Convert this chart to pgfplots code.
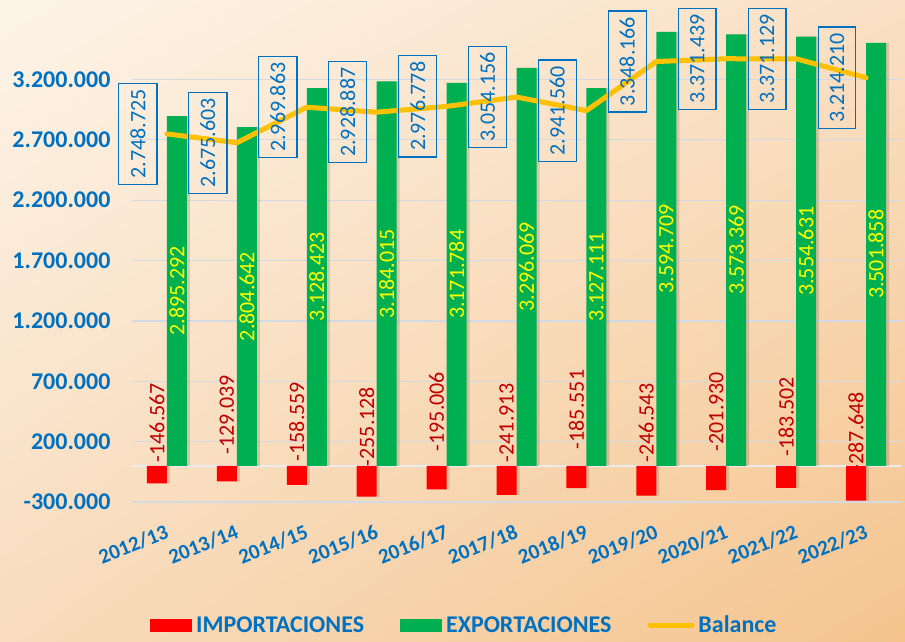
\documentclass[border=0pt]{standalone}
\usepackage{fontspec}
\setmainfont{Carlito}
\usepackage{pgfplots}
\usepackage{pgfplotstable}
\usetikzlibrary{shadings}
\pgfplotsset{compat=1.18}
\definecolor{cblue}{HTML}{0070C0}
\definecolor{cred}{HTML}{FF0000}
\definecolor{cdred}{HTML}{C00000}
\definecolor{cgreen}{HTML}{00B050}
\definecolor{cbal}{HTML}{FFC000}
\definecolor{cyel}{HTML}{FFFF00}
\definecolor{cgrid}{HTML}{D3DAE4}
\definecolor{bgUL}{HTML}{FDF4E8}
\definecolor{bgUR}{HTML}{F9E0C4}
\definecolor{bgLL}{HTML}{F8DCBD}
\definecolor{bgLR}{HTML}{F5C48D}

\pgfplotstableread{
x imp exp bal impy implab explab ballab
0 -146567 2895292 2748725 29000 -146.567 2.895.292 2.748.725
1 -129039 2804642 2675603 95000 -129.039 2.804.642 2.675.603
2 -158559 3128423 2969863 37000 -158.559 3.128.423 2.969.863
3 -255128 3184015 2928887 -4000 -255.128 3.184.015 2.928.887
4 -195006 3171784 2976778 120000 -195.006 3.171.784 2.976.778
5 -241913 3296069 3054156 29000 -241.913 3.296.069 3.054.156
6 -185551 3127111 2941560 137000 -185.551 3.127.111 2.941.560
7 -246543 3594709 3348166 29000 -246.543 3.594.709 3.348.166
8 -201930 3573369 3371439 120000 -201.930 3.573.369 3.371.439
9 -183502 3554631 3371129 79000 -183.502 3.554.631 3.371.129
10 -287648 3501858 3214210 -46000 -287.648 3.501.858 3.214.210
}\data

\begin{document}
\begin{tikzpicture}[x=1pt,y=1pt]
\shade[upper left=bgUL, upper right=bgUR, lower left=bgLL, lower right=bgLR] (0,0) rectangle (905,641);
\begin{axis}[
  at={(132pt,139pt)}, anchor=south west,
  scale only axis, width=769pt, height=495pt,
  xmin=-0.5, xmax=10.5, ymin=-300000, ymax=3800000,
  axis line style={draw=none},
  major tick length=0pt,
  clip=false,
  xtick={0,...,10},
  xticklabels={2012/13,2013/14,2014/15,2015/16,2016/17,2017/18,2018/19,2019/20,2020/21,2021/22,2022/23},
  xticklabel style={xshift=3pt, yshift=-35pt, rotate=22, anchor=base east, inner sep=0pt,
    font=\bfseries\fontsize{21}{24}\selectfont, text=cblue},
  ytick={-300000,200000,...,3200000},
  scaled y ticks=false,
  yticklabel style={/pgf/number format/.cd, fixed, precision=0, 1000 sep={.}, assume math mode=true,
    /tikz/.cd, font=\bfseries\fontsize{24}{26}\selectfont, text=cblue, xshift=-18pt},
  ymajorgrids, grid style={color=cgrid, line width=1.2pt},
  extra y ticks={0}, extra y tick labels={},
  extra y tick style={grid style={color=white!85!gray, line width=2pt}},
  legend columns=3,
  legend style={draw=none, fill=none, at={(0.0234,-0.2485)}, anchor=west, inner sep=0pt,
    font=\bfseries\fontsize{24}{26}\selectfont, text=cblue,
    /tikz/every odd column/.append style={column sep=2pt},
    /tikz/every even column/.append style={column sep=34pt}},
]
% soft shadows of the bars
\addplot[ybar, bar width=20pt, bar shift=-7pt, fill=black, opacity=0.13, draw=none, forget plot]
  table[x=x, y=imp] {\data};
\addplot[ybar, bar width=20pt, bar shift=13pt, fill=black, opacity=0.13, draw=none, forget plot]
  table[x=x, y=exp] {\data};
\addplot[ybar, bar width=20pt, bar shift=-10pt, fill=cred, draw=none,
  legend image code/.code={\fill[cred] (0pt,-6.5pt) rectangle (42pt,6.5pt);}]
  table[x=x, y=imp] {\data};
\addlegendentry{IMPORTACIONES}
\addplot[ybar, bar width=20pt, bar shift=10pt, fill=cgreen, draw=none,
  legend image code/.code={\fill[cgreen] (0pt,-6.5pt) rectangle (42pt,6.5pt);}]
  table[x=x, y=exp] {\data};
\addlegendentry{EXPORTACIONES}
\addplot[color=cbal, line width=5pt, line join=round, line cap=round, mark=none,
  legend image code/.code={\draw[cbal, line width=5pt, line cap=round] (2.5pt,0pt) -- (44.5pt,0pt);}]
  table[x=x, y=bal] {\data};
\addlegendentry{Balance}
% labels
\addplot[draw=none, mark=none, forget plot, point meta=explicit symbolic, nodes near coords,
  nodes near coords style={rotate=90, anchor=west, inner sep=0pt, text=cdred,
    font=\fontsize{22}{24}\selectfont}]
  table[x expr=\thisrow{x}-0.143, y=impy, meta=implab] {\data};
\addplot[draw=none, mark=none, forget plot, point meta=explicit symbolic, nodes near coords,
  nodes near coords style={rotate=90, anchor=center, inner sep=0pt, text=cyel,
    font=\fontsize{22}{24}\selectfont}]
  table[x expr=\thisrow{x}+0.143, y expr=\thisrow{exp}/2, meta=explab] {\data};
\addplot[draw=none, mark=none, forget plot, point meta=explicit symbolic, nodes near coords,
  nodes near coords style={rotate=90, anchor=center, inner xsep=6pt, inner ysep=11.5pt,
    draw=cblue, line width=1.3pt, text=cblue, font=\fontsize{22}{24}\selectfont}]
  table[x expr=\thisrow{x}-0.415, y=bal, meta=ballab] {\data};
\end{axis}
\pgfresetboundingbox
\useasboundingbox (0,0) rectangle (905,641);
\end{tikzpicture}
\end{document}
